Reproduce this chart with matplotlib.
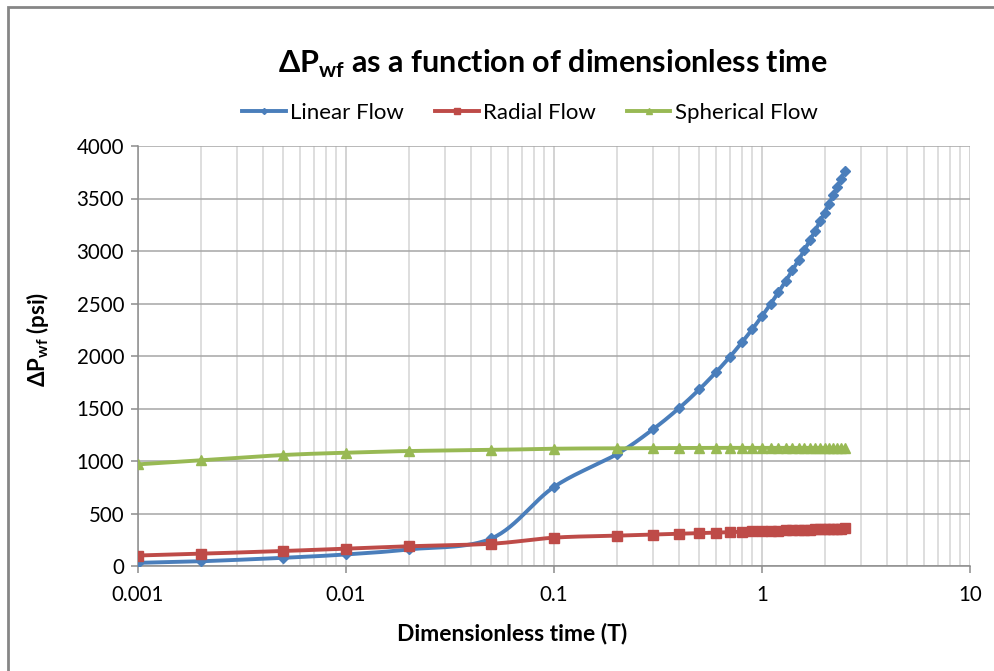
import numpy as np
import matplotlib
matplotlib.use("Agg")
import matplotlib.pyplot as plt
from matplotlib.lines import Line2D
from matplotlib.patches import Rectangle

plt.rcParams["font.family"] = ["Lato", "DejaVu Sans"]
plt.rcParams["mathtext.fontset"] = "custom"
plt.rcParams["mathtext.rm"] = "Lato"
plt.rcParams["mathtext.bf"] = "Lato:bold"

# dimensionless time
t = [0.001, 0.002, 0.005, 0.01, 0.02, 0.05, 0.1, 0.2, 0.3, 0.4, 0.5, 0.6,
     0.7, 0.8, 0.9, 1.0, 1.1, 1.2, 1.3, 1.4, 1.5, 1.6, 1.7, 1.8, 1.9, 2.0,
     2.1, 2.2, 2.3, 2.4, 2.5]

linear = [30, 45, 78, 110, 158, 262, 753, 1064, 1304, 1505, 1683, 1844,
          1991, 2129, 2258, 2380, 2496, 2607, 2714, 2816, 2915, 3010, 3103,
          3193, 3281, 3366, 3449, 3530, 3609, 3687, 3763]
radial = [100, 117, 143, 165, 188, 212, 270, 289, 299, 307, 313, 318, 322,
          326, 329, 332, 335, 337, 339, 341, 343, 345, 347, 348, 350, 351,
          353, 354, 355, 356, 358]
spherical = [968, 1006, 1057, 1079, 1095, 1105, 1117, 1121, 1123, 1124, 1124,
             1125, 1125, 1125, 1125, 1125, 1125, 1125, 1125, 1125, 1125, 1125,
             1125, 1125, 1125, 1125, 1125, 1125, 1125, 1125, 1125]

BLUE = "#4a7ebb"
RED = "#be4b48"
GREEN = "#98b954"


def smooth(x, y, n=30):
    """Excel-like smoothing: Catmull-Rom in screen-ish coords (log x)."""
    u = np.log10(np.asarray(x, float)) * 208.0
    v = np.asarray(y, float) * 0.105
    P = np.column_stack([u, v])
    P = np.vstack([P[0], P, P[-1]])
    out = []
    for i in range(1, len(P) - 2):
        p0, p1, p2, p3 = P[i - 1], P[i], P[i + 1], P[i + 2]
        c1 = p1 + (p2 - p0) / 6.0
        c2 = p2 - (p3 - p1) / 6.0
        s = np.linspace(0, 1, n)[:, None]
        seg = ((1 - s) ** 3) * p1 + 3 * ((1 - s) ** 2) * s * c1 \
            + 3 * (1 - s) * s ** 2 * c2 + s ** 3 * p2
        out.append(seg if i == 1 else seg[1:])
    out = np.vstack(out)
    return 10 ** (out[:, 0] / 208.0), out[:, 1] / 0.105


fig = plt.figure(figsize=(9.95, 6.71), dpi=100)
ax = fig.add_axes([138 / 995, 105 / 671, 832 / 995, 420 / 671])

series = [
    ("Linear Flow", linear, BLUE, "D", 5.5),
    ("Radial Flow", radial, RED, "s", 7),
    ("Spherical Flow", spherical, GREEN, "^", 7),
]
handles = []
for name, vals, col, mk, ms in series:
    sx, sy = smooth(t, vals)
    ax.plot(sx, sy, color=col, lw=2.8, zorder=3, solid_capstyle="round")
    ax.plot(t, vals, ls="none", marker=mk, ms=ms, color=col,
            markeredgecolor=col, zorder=4)
    handles.append(Line2D([], [], color=col, lw=2.8, marker=mk,
                          ms=ms * 0.55, label=name))

ax.set_xscale("log")
ax.set_xlim(0.001, 10)
ax.set_ylim(0, 4000)
ax.set_yticks(np.arange(0, 4001, 500))
ax.set_xticks([0.001, 0.01, 0.1, 1, 10])
ax.set_xticklabels(["0.001", "0.01", "0.1", "1", "10"])

ax.grid(True, which="major", axis="y", color="#a6a6a6", lw=1.1)
ax.grid(True, which="major", axis="x", color="#c8c8c8", lw=1.1)
ax.grid(True, which="minor", axis="x", color="#d4d4d4", lw=1.1)
ax.set_axisbelow(True)

for side in ["top", "right"]:
    ax.spines[side].set_visible(False)
for side in ["left", "bottom"]:
    ax.spines[side].set_color("#8c8c8c")
    ax.spines[side].set_linewidth(1.1)

ax.tick_params(axis="both", which="major", labelsize=14.8, colors="#8c8c8c",
               labelcolor="black", length=5, width=1.1, direction="out")
ax.tick_params(axis="x", which="major", pad=9)
ax.tick_params(axis="y", which="major", pad=5)
ax.tick_params(axis="x", which="minor", length=0)

ax.set_ylabel(r"ΔP$_{\mathbf{wf}}$ (psi)", fontsize=16, fontweight="bold")
ax.yaxis.set_label_coords(-0.105, 0.54)
fig.text(512 / 995, 1 - 634 / 671, "Dimensionless time (T)", fontsize=16.5,
         fontweight="bold", ha="center", va="center")

fig.text(553 / 995, 1 - 64 / 671,
         r"ΔP$_{\mathbf{wf}}$ as a function of dimensionless time",
         fontsize=22, fontweight="bold", ha="center", va="center")

fig.legend(handles=handles, loc="center", ncol=3, frameon=False,
           bbox_to_anchor=(530 / 995, 1 - 113 / 671), fontsize=16,
           handlelength=1.95, columnspacing=1.4, handletextpad=0.2)

# chart border (extends past the right/bottom edge)
fig.patches.append(Rectangle((8 / 995, -0.05), 1.2, 1 - 7 / 671 + 0.05,
                             transform=fig.transFigure, fill=False,
                             edgecolor="#868686", lw=2))

fig.savefig("out.png", dpi=100)
